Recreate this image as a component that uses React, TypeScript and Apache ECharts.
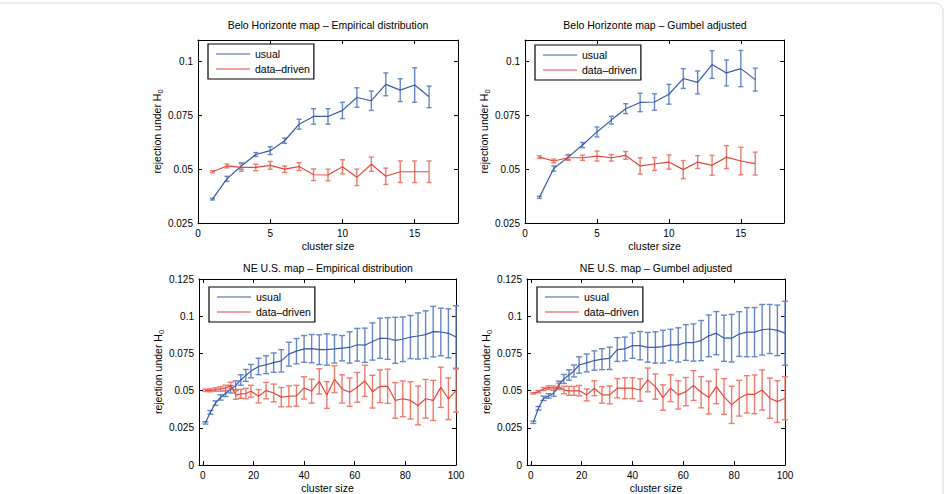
import React, { useEffect, useRef } from "react";
import * as echarts from "echarts";

// Cluster sizes
const X_BH = [1, 2, 3, 4, 5, 6, 7, 8, 9, 10, 11, 12, 13, 14, 15, 16];
const X_NE = [1, 3, 5, 7, 9, 11, 13, 15, 17, 19, 22, 25, 28, 31, 34, 37, 40, 43, 46, 49, 52, 55, 58, 61, 64, 67, 70, 73, 76, 79, 82, 85, 88, 91, 94, 97, 100];

// Belo Horizonte – empirical distribution
const bhEmpUsual = [0.0361, 0.0455, 0.0515, 0.0568, 0.0586, 0.0632, 0.0709, 0.0745, 0.0745, 0.0773, 0.0833, 0.0818, 0.0894, 0.0867, 0.0891, 0.0836];
const bhEmpUsualErr = [0.0004, 0.0012, 0.0015, 0.0009, 0.0018, 0.0012, 0.0023, 0.0036, 0.0036, 0.0038, 0.0045, 0.0045, 0.0053, 0.0053, 0.008, 0.005];
const bhEmpDriven = [0.0488, 0.0515, 0.0508, 0.0508, 0.0518, 0.05, 0.0512, 0.0474, 0.0473, 0.0511, 0.0462, 0.0523, 0.0467, 0.0488, 0.0488, 0.0488];
const bhEmpDrivenErr = [0.0005, 0.0009, 0.0018, 0.0015, 0.0018, 0.0015, 0.0018, 0.0027, 0.0027, 0.0033, 0.0038, 0.0033, 0.0038, 0.005, 0.005, 0.005];

// Belo Horizonte – Gumbel adjusted
const bhGumUsual = [0.0369, 0.0503, 0.0556, 0.0612, 0.0673, 0.0728, 0.0781, 0.081, 0.0812, 0.0848, 0.0921, 0.0903, 0.0986, 0.0947, 0.0967, 0.0916];
const bhGumUsualErr = [0.0005, 0.0012, 0.0012, 0.0012, 0.0023, 0.0018, 0.0023, 0.0043, 0.0038, 0.0046, 0.0046, 0.0053, 0.0064, 0.006, 0.0084, 0.0053];
const bhGumDriven = [0.0556, 0.0538, 0.0553, 0.0553, 0.0561, 0.0553, 0.0564, 0.0515, 0.0524, 0.0533, 0.0498, 0.0533, 0.0518, 0.0556, 0.0538, 0.0526];
const bhGumDrivenErr = [0.0006, 0.0009, 0.0012, 0.0012, 0.0023, 0.0015, 0.0018, 0.0038, 0.003, 0.0033, 0.0042, 0.003, 0.0046, 0.0053, 0.0064, 0.0053];

// NE U.S. – empirical distribution
const neEmpUsual = [0.0283, 0.0354, 0.0416, 0.0454, 0.048, 0.0509, 0.0535, 0.0571, 0.0602, 0.0631, 0.0662, 0.0674, 0.0688, 0.07, 0.0745, 0.0765, 0.078, 0.0782, 0.0775, 0.0776, 0.078, 0.0785, 0.079, 0.0808, 0.0805, 0.083, 0.0852, 0.085, 0.0838, 0.0845, 0.086, 0.0867, 0.0876, 0.0896, 0.0894, 0.0885, 0.086];
const neEmpUsualErr = [0.0008, 0.0012, 0.0015, 0.0018, 0.002, 0.0025, 0.003, 0.0035, 0.004, 0.0045, 0.0055, 0.006, 0.0065, 0.0075, 0.008, 0.0085, 0.009, 0.0095, 0.01, 0.0105, 0.0095, 0.0085, 0.0105, 0.011, 0.0115, 0.0125, 0.0135, 0.014, 0.0155, 0.015, 0.0145, 0.0155, 0.016, 0.017, 0.016, 0.0165, 0.021];
const neEmpDriven = [0.0502, 0.0502, 0.0507, 0.0511, 0.0518, 0.0536, 0.047, 0.0478, 0.048, 0.0496, 0.0462, 0.05, 0.0484, 0.0456, 0.0462, 0.0465, 0.0518, 0.0496, 0.0562, 0.047, 0.0577, 0.0511, 0.0489, 0.0522, 0.0566, 0.0493, 0.0529, 0.0529, 0.0434, 0.0445, 0.0434, 0.04, 0.0445, 0.0434, 0.0522, 0.0445, 0.05];
const neEmpDrivenErr = [0.0008, 0.001, 0.0012, 0.0015, 0.0018, 0.002, 0.0028, 0.003, 0.0035, 0.004, 0.0045, 0.0055, 0.006, 0.0065, 0.007, 0.007, 0.0075, 0.008, 0.0085, 0.009, 0.009, 0.0095, 0.0095, 0.01, 0.0105, 0.011, 0.011, 0.0115, 0.012, 0.012, 0.0125, 0.013, 0.013, 0.0135, 0.0135, 0.014, 0.0145];

// NE U.S. – Gumbel adjusted
const neGumUsual = [0.0287, 0.0381, 0.0448, 0.0464, 0.0482, 0.0538, 0.0578, 0.0605, 0.0632, 0.0672, 0.0686, 0.0702, 0.0711, 0.0717, 0.0776, 0.078, 0.0802, 0.0802, 0.0791, 0.079, 0.0795, 0.0807, 0.0807, 0.0823, 0.0823, 0.0836, 0.0868, 0.0886, 0.0852, 0.0852, 0.088, 0.0893, 0.0893, 0.0909, 0.0914, 0.0905, 0.0886];
const neGumUsualErr = [0.0008, 0.0012, 0.0015, 0.0015, 0.002, 0.0025, 0.003, 0.0035, 0.004, 0.0055, 0.006, 0.0065, 0.007, 0.0075, 0.008, 0.008, 0.0085, 0.0095, 0.01, 0.0105, 0.011, 0.0105, 0.0115, 0.012, 0.0125, 0.0135, 0.014, 0.0145, 0.0155, 0.016, 0.015, 0.0165, 0.0165, 0.017, 0.0165, 0.017, 0.0215];
const neGumDriven = [0.0482, 0.0493, 0.0511, 0.052, 0.0516, 0.0527, 0.0504, 0.0498, 0.0498, 0.05, 0.0471, 0.0516, 0.0471, 0.0471, 0.0516, 0.0516, 0.0516, 0.0504, 0.0572, 0.0527, 0.0453, 0.0516, 0.0471, 0.0493, 0.0534, 0.0489, 0.0453, 0.0527, 0.046, 0.0404, 0.0449, 0.0475, 0.0475, 0.0504, 0.0449, 0.0426, 0.0449];
const neGumDrivenErr = [0.0005, 0.0008, 0.001, 0.0012, 0.0015, 0.002, 0.0025, 0.003, 0.003, 0.0035, 0.004, 0.005, 0.0055, 0.006, 0.0065, 0.007, 0.007, 0.0075, 0.008, 0.0085, 0.0085, 0.009, 0.0095, 0.0095, 0.01, 0.0105, 0.011, 0.0115, 0.012, 0.0125, 0.012, 0.0125, 0.013, 0.0135, 0.0135, 0.014, 0.0145];

// Tick values
const BH_X_TICKS = [0, 5, 10, 15];
const BH_Y_TICKS = [0.025, 0.05, 0.075, 0.1];
const NE_X_TICKS = [0, 20, 40, 60, 80, 100];
const NE_Y_TICKS = [0, 0.025, 0.05, 0.075, 0.1, 0.125];

const SERIES_NAMES = ["usual", "data\u2013driven"];
const TITLES = [
  "Belo Horizonte map \u2013 Empirical distribution",
  "Belo Horizonte map \u2013 Gumbel adjusted",
  "NE U.S. map \u2013 Empirical distribution",
  "NE U.S. map \u2013 Gumbel adjusted",
];

const FONT = '"Liberation Sans", Arial, Helvetica, sans-serif';
const BLUE = "#3a5aa8";
const BLUE_BAR = "#6687c6";
const RED = "#e4473a";
const RED_BAR = "#ee7b6d";

const panels = [
  {
    title: TITLES[0], titleX: 328, titleY: 25,
    grid: { left: 198, top: 40, width: 260, height: 183 },
    legend: { left: 208, top: 44 },
    x: X_BH, usual: bhEmpUsual, usualErr: bhEmpUsualErr, driven: bhEmpDriven, drivenErr: bhEmpDrivenErr,
    xMin: 0, xMax: 18, xTicks: BH_X_TICKS, yMin: 0.025, yMax: 0.11, yTicks: BH_Y_TICKS, cap: 2.5,
  },
  {
    title: TITLES[1], titleX: 655, titleY: 25,
    grid: { left: 525, top: 40, width: 259, height: 183 },
    legend: { left: 535, top: 45 },
    x: X_BH, usual: bhGumUsual, usualErr: bhGumUsualErr, driven: bhGumDriven, drivenErr: bhGumDrivenErr,
    xMin: 0, xMax: 18, xTicks: BH_X_TICKS, yMin: 0.025, yMax: 0.11, yTicks: BH_Y_TICKS, cap: 2.5,
  },
  {
    title: TITLES[2], titleX: 328, titleY: 268,
    grid: { left: 199, top: 279, width: 257, height: 187 },
    legend: { left: 209, top: 287 },
    x: X_NE, usual: neEmpUsual, usualErr: neEmpUsualErr, driven: neEmpDriven, drivenErr: neEmpDrivenErr,
    xMin: -1.5, xMax: 100, xTicks: NE_X_TICKS, yMin: 0, yMax: 0.125, yTicks: NE_Y_TICKS, cap: 3,
  },
  {
    title: TITLES[3], titleX: 656, titleY: 268,
    grid: { left: 527, top: 279, width: 258, height: 187 },
    legend: { left: 537, top: 287 },
    x: X_NE, usual: neGumUsual, usualErr: neGumUsualErr, driven: neGumDriven, drivenErr: neGumDrivenErr,
    xMin: -1.5, xMax: 100, xTicks: NE_X_TICKS, yMin: 0, yMax: 0.125, yTicks: NE_Y_TICKS, cap: 3,
  },
];

const fmtTick = (v: number) => String(parseFloat(Number(v).toFixed(3)));

function errorBarSeries(name: string, gi: number, xs: number[], ys: number[], errs: number[], color: string, cap: number) {
  return {
    type: "custom",
    name,
    xAxisIndex: gi * 2,
    yAxisIndex: gi * 2,
    data: xs.map((x, i) => [x, ys[i], ys[i] - errs[i], ys[i] + errs[i]]),
    encode: { x: 0, y: [1, 2, 3] },
    silent: true,
    renderItem: (_params: any, api: any) => {
      const x = api.value(0);
      const top = api.coord([x, api.value(3)]);
      const bot = api.coord([x, api.value(2)]);
      const style = { stroke: color, lineWidth: 1.4, fill: "none" };
      return {
        type: "group",
        children: [
          { type: "line", shape: { x1: top[0], y1: top[1], x2: bot[0], y2: bot[1] }, style },
          { type: "line", shape: { x1: top[0] - cap, y1: top[1], x2: top[0] + cap, y2: top[1] }, style },
          { type: "line", shape: { x1: bot[0] - cap, y1: bot[1], x2: bot[0] + cap, y2: bot[1] }, style },
        ],
      };
    },
  };
}

function lineSeries(name: string, gi: number, xs: number[], ys: number[], color: string) {
  return {
    type: "line",
    name,
    xAxisIndex: gi * 2,
    yAxisIndex: gi * 2,
    data: xs.map((x, i) => [x, ys[i]]),
    showSymbol: false,
    symbol: "none",
    color,
    lineStyle: { color, width: 1.2 },
    silent: true,
    z: 3,
  };
}

function buildOption() {
  const axisLine = { show: true, onZero: false, lineStyle: { color: "#000", width: 1 } };
  const tickStyle = { color: "#000", width: 1 };
  const labelStyle = { color: "#000", fontSize: 10, fontFamily: FONT };

  const grids: any[] = [];
  const xAxes: any[] = [];
  const yAxes: any[] = [];
  const series: any[] = [];
  const legends: any[] = [];
  const graphics: any[] = [];

  panels.forEach((p, gi) => {
    grids.push({ ...p.grid, containLabel: false });

    xAxes.push({
      type: "value", gridIndex: gi, position: "bottom", min: p.xMin, max: p.xMax,
      axisLine, splitLine: { show: false },
      axisTick: { show: true, inside: true, length: 4, lineStyle: tickStyle, customValues: p.xTicks },
      axisLabel: { ...labelStyle, margin: 5, customValues: p.xTicks, formatter: fmtTick },
      name: "cluster size", nameLocation: "middle", nameGap: 17,
      nameTextStyle: { ...labelStyle, fontSize: 10.5 },
    });
    xAxes.push({
      type: "value", gridIndex: gi, position: "top", min: p.xMin, max: p.xMax,
      axisLine, splitLine: { show: false },
      axisTick: { show: true, inside: true, length: 4, lineStyle: tickStyle, customValues: p.xTicks },
      axisLabel: { show: false },
    });

    yAxes.push({
      type: "value", gridIndex: gi, position: "left", min: p.yMin, max: p.yMax,
      axisLine, splitLine: { show: false },
      axisTick: { show: true, inside: true, length: 4, lineStyle: tickStyle, customValues: p.yTicks },
      axisLabel: { ...labelStyle, margin: 5, customValues: p.yTicks, formatter: fmtTick },
      name: "rejection under H{sub|0}", nameLocation: "middle", nameGap: 33, nameRotate: 90,
      nameTextStyle: {
        ...labelStyle, fontSize: 10.5,
        rich: { sub: { fontSize: 7.5, fontFamily: FONT, color: "#000", padding: [6, 0, 0, 0] } },
      },
    });
    yAxes.push({
      type: "value", gridIndex: gi, position: "right", min: p.yMin, max: p.yMax,
      axisLine, splitLine: { show: false },
      axisTick: { show: true, inside: true, length: 4, lineStyle: tickStyle, customValues: p.yTicks },
      axisLabel: { show: false },
    });

    series.push(errorBarSeries("usual \u00b1", gi, p.x, p.usual, p.usualErr, BLUE_BAR, p.cap));
    series.push(lineSeries(SERIES_NAMES[0], gi, p.x, p.usual, BLUE));
    series.push(errorBarSeries("data\u2013driven \u00b1", gi, p.x, p.driven, p.drivenErr, RED_BAR, p.cap));
    series.push(lineSeries(SERIES_NAMES[1], gi, p.x, p.driven, RED));

    legends.push({
      orient: "vertical",
      left: p.legend.left,
      top: p.legend.top,
      data: SERIES_NAMES,
      icon: "rect",
      itemWidth: 34,
      itemHeight: 1.2,
      itemGap: 3,
      padding: [4, 4, 4, 8],
      borderColor: "#000",
      borderWidth: 1.2,
      borderRadius: 0,
      backgroundColor: "#fff",
      selectedMode: false,
      textStyle: { color: "#000", fontSize: 10.5, fontFamily: FONT, lineHeight: 12 },
      z: 10,
    });

    graphics.push({
      type: "text",
      x: p.titleX,
      y: p.titleY,
      style: {
        text: p.title,
        fill: "#000",
        font: `10.5px ${FONT}`,
        align: "center",
        verticalAlign: "middle",
      },
    });
  });

  // thin figure frame
  graphics.push({
    type: "rect",
    shape: { x: -20, y: 3, width: 963, height: 520, r: 8 },
    style: { fill: "none", stroke: "#d9d9d9", lineWidth: 1 },
    silent: true,
  });

  return {
    animation: false,
    backgroundColor: "#fff",
    textStyle: { fontFamily: FONT },
    grid: grids,
    xAxis: xAxes,
    yAxis: yAxes,
    legend: legends,
    series,
    graphic: graphics,
  };
}

export default function App() {
  const ref = useRef<HTMLDivElement>(null);

  useEffect(() => {
    document.body.style.margin = "0";
    if (!ref.current) return;
    const chart = echarts.init(ref.current, undefined, { renderer: "svg" });
    chart.setOption(buildOption() as any);
    return () => chart.dispose();
  }, []);

  return <div ref={ref} style={{ width: 951, height: 494, background: "#fff" }} />;
}
